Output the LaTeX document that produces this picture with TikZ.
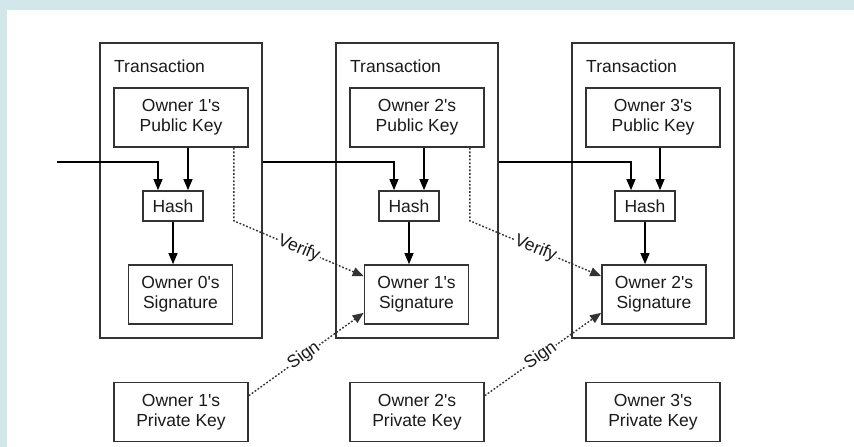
\documentclass[tikz,border=0pt]{standalone}
\usepackage{fontspec}
\setmainfont{Liberation Sans}
\usetikzlibrary{arrows.meta}
\definecolor{bgblue}{HTML}{D2E7EA}
\definecolor{ink}{HTML}{1A1A1A}
\definecolor{edge}{HTML}{333333}
\newcommand{\apos}{\textquotesingle}
\begin{document}
\begin{tikzpicture}[x=1pt,y=-1pt,
  every node/.style={font=\fontsize{17.5}{20}\selectfont, text=ink, align=center},
  txbox/.style={draw=edge, line width=1.7pt, minimum width=162pt, minimum height=295pt, inner sep=0pt},
  keybox/.style={draw=edge, line width=1.7pt, minimum width=134pt, minimum height=59pt, inner sep=0pt},
  hashbox/.style={draw=edge, line width=1.7pt, minimum width=60pt, minimum height=30pt, inner sep=0pt},
  sigbox/.style={draw=edge, line width=1.7pt, minimum width=104pt, minimum height=59pt, inner sep=0pt},
  flow/.style={draw=black, line width=1.2pt, -{Triangle[length=11pt,width=9pt]}},
  dotflow/.style={draw=edge, line width=1.4pt, dash pattern=on 1.8pt off 1.8pt, -{Triangle[length=11pt,width=9pt]}},
  dotlabel/.style={fill=white, inner sep=1pt, sloped}
]
\fill[bgblue] (0,0) rectangle (854,447);
\fill[white] (7,10) rectangle (854,447);
\useasboundingbox (0,0) rectangle (854,447);

\foreach \i/\dx in {1/0, 2/236, 3/472} {
  \node[txbox] (T\i) at (181+\dx,190.5) {};
  \node[anchor=base west, inner sep=0pt] (TL\i) at (114+\dx,72) {Transaction};
  \node[keybox] (PK\i) at (181+\dx,117.5) {Owner \i\apos s\\Public Key};
  \node[hashbox] (H\i) at (173+\dx,206) {Hash};
  \node[keybox] (PR\i) at (181+\dx,412) {Owner \i\apos s\\Private Key};
}
\node[sigbox] (S1) at (180.5,294.5) {Owner 0\apos s\\Signature};
\node[sigbox] (S2) at (416.5,294.5) {Owner 1\apos s\\Signature};
\node[sigbox] (S3) at (654,294.5) {Owner 2\apos s\\Signature};

\coordinate (start) at (57,162);

% chain lines into hash boxes
\draw[flow] (start) -| ([xshift=-15pt]H1.north);
\draw[flow] (T1.east |- start) -| ([xshift=-15pt]H2.north);
\draw[flow] (T2.east |- start) -| ([xshift=-14pt]H3.north);

\foreach \i in {1,2,3} {
  \draw[flow] ([xshift=15pt]H\i.north |- PK\i.south) -- ([xshift=15pt]H\i.north);
  \draw[flow] (H\i.south) -- (H\i.south |- S\i.north);
}

% verify and sign
\foreach \i/\j in {1/2, 2/3} {
  \coordinate (vb\i) at ([xshift=-15pt]PK\i.south east);
  \draw[dotflow] (vb\i) -- ++(0,73) -- ([yshift=-12pt]S\j.north west)
     node[dotlabel, pos=0.5] (V\i) {Verify};
  \draw[dotflow] ([yshift=-14pt]PR\i.north east) -- ([yshift=12pt]S\j.south west)
     node[dotlabel, pos=0.48] (G\i) {Sign};
}
\end{tikzpicture}
\end{document}
